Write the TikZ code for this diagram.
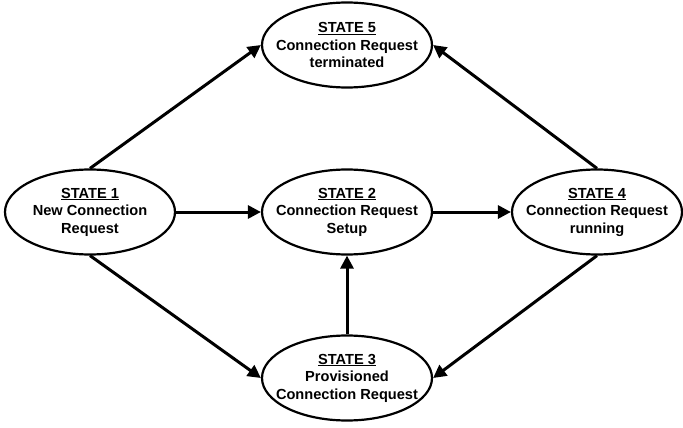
\documentclass[tikz,border=0pt]{standalone}
\usepackage{fontspec}
\setmainfont{Liberation Sans}
\usetikzlibrary{arrows.meta,shapes.geometric}
\begin{document}
\begin{tikzpicture}[x=1pt,y=-1pt,
  statebox/.style={draw,ellipse,line width=2.2pt,minimum width=170pt,minimum height=85pt,inner sep=0pt},
  statetext/.style={align=center,inner sep=0pt,font=\bfseries\fontsize{14.6}{17.5}\selectfont},
  conn/.style={line width=3pt,-{Triangle[length=13pt,width=13pt]}}]
\useasboundingbox (0,0) rectangle (683,428);
\node[statebox] (s1) at (90,212) {};
\node[statebox] (s2) at (347,212) {};
\node[statebox] (s3) at (347,378) {};
\node[statebox] (s4) at (597,212) {};
\node[statebox] (s5) at (347,45) {};
\node[statetext] (t1) at (s1) {\underline{STATE 1}\\New Connection\\Request};
\node[statetext] (t2) at (s2) {\underline{STATE 2}\\Connection Request\\Setup};
\node[statetext] (t3) at (s3) {\underline{STATE 3}\\Provisioned\\Connection Request};
\node[statetext] (t4) at (s4) {\underline{STATE 4}\\Connection Request\\running};
\node[statetext] (t5) at (s5) {\underline{STATE 5}\\Connection Request\\terminated};
\draw[conn] (s1.north) -- (s5.west);
\draw[conn] (s4.north) -- (s5.east);
\draw[conn] (s1.south) -- (s3.west);
\draw[conn] (s4.south) -- (s3.east);
\draw[conn] (s1.east) -- (s2.west);
\draw[conn] (s2.east) -- (s4.west);
\draw[conn] (s3.north) -- (s2.south);
\end{tikzpicture}
\end{document}
